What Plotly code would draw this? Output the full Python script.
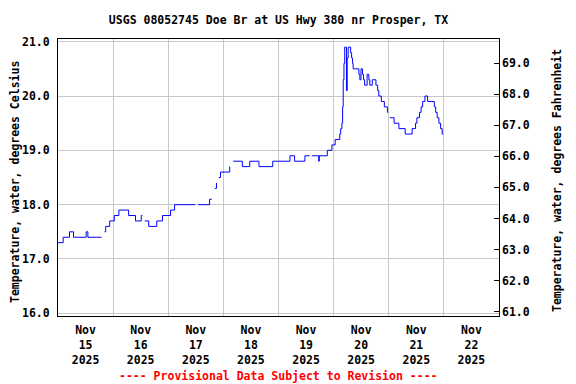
import plotly.graph_objects as go

# --- data ---
times = [
    "2025-11-15 00:00", "2025-11-15 02:15", "2025-11-15 05:00", "2025-11-15 06:45",
    "2025-11-15 12:15", "2025-11-15 13:00", "2025-11-15 19:00", "2025-11-15 19:30",
    "2025-11-15 20:15", "2025-11-15 20:45", "2025-11-15 22:30",
    "2025-11-16 00:30", "2025-11-16 02:30", "2025-11-16 06:45", "2025-11-16 09:45",
    "2025-11-16 12:15", "2025-11-16 12:45", "2025-11-16 13:15", "2025-11-16 13:45",
    "2025-11-16 15:30", "2025-11-16 19:00", "2025-11-16 21:30",
    "2025-11-17 01:00", "2025-11-17 02:45", "2025-11-17 11:45", "2025-11-17 12:15",
    "2025-11-17 13:00", "2025-11-17 18:00", "2025-11-17 19:00", "2025-11-17 19:30",
    "2025-11-17 20:15", "2025-11-17 21:00", "2025-11-17 21:15", "2025-11-17 22:00",
    "2025-11-17 22:45",
    "2025-11-18 02:30", "2025-11-18 02:45", "2025-11-18 03:15", "2025-11-18 04:15",
    "2025-11-18 08:15", "2025-11-18 11:30", "2025-11-18 15:30", "2025-11-18 21:30",
    "2025-11-19 05:00", "2025-11-19 07:00", "2025-11-19 11:30", "2025-11-19 13:30",
    "2025-11-19 14:00", "2025-11-19 14:30", "2025-11-19 17:30", "2025-11-19 17:45",
    "2025-11-19 21:15", "2025-11-19 23:15",
    "2025-11-20 00:40", "2025-11-20 02:40", "2025-11-20 03:05", "2025-11-20 03:35",
    "2025-11-20 03:55", "2025-11-20 04:10", "2025-11-20 04:30", "2025-11-20 04:50",
    "2025-11-20 05:35", "2025-11-20 05:55", "2025-11-20 06:20", "2025-11-20 07:25",
    "2025-11-20 07:50", "2025-11-20 08:15", "2025-11-20 08:30", "2025-11-20 11:00",
    "2025-11-20 11:25", "2025-11-20 11:55", "2025-11-20 12:35", "2025-11-20 13:00",
    "2025-11-20 13:30", "2025-11-20 14:35", "2025-11-20 15:20", "2025-11-20 15:45",
    "2025-11-20 16:50", "2025-11-20 18:25", "2025-11-20 19:10", "2025-11-20 19:40",
    "2025-11-20 20:45", "2025-11-20 22:05", "2025-11-20 23:25", "2025-11-20 23:45",
    "2025-11-21 00:00", "2025-11-21 00:30", "2025-11-21 02:20", "2025-11-21 04:25",
    "2025-11-21 07:10", "2025-11-21 10:10", "2025-11-21 11:40", "2025-11-21 12:15",
    "2025-11-21 13:25", "2025-11-21 14:05", "2025-11-21 14:45", "2025-11-21 15:45",
    "2025-11-21 16:55", "2025-11-21 19:50", "2025-11-21 20:25", "2025-11-21 21:05",
    "2025-11-21 21:50", "2025-11-21 22:35", "2025-11-21 23:15", "2025-11-21 23:40",
]
temp_c = [
    17.3, 17.4, 17.5, 17.4,
    17.5, 17.4, 17.4, None,
    17.5, 17.6, 17.7,
    17.8, 17.9, 17.8, 17.7,
    17.8, 17.8, None, 17.7,
    17.6, 17.7, 17.8,
    17.9, 18.0, 18.0, None,
    18.0, 18.1, 18.1, None,
    18.3, 18.4, None, 18.5,
    18.6,
    18.6, 18.7, None, 18.8,
    18.7, 18.8, 18.7, 18.8,
    18.9, 18.8, 18.9, 18.9,
    None, 18.9, 18.8, 18.9,
    19.0, 19.1,
    19.2, 19.3, 19.4, 19.5,
    19.8, 20.3, 20.6, 20.9,
    20.1, 20.7, 20.9, 20.8,
    20.7, 20.6, 20.5, 20.4,
    20.3, 20.5, 20.4, 20.3,
    20.2, 20.4, 20.3, 20.2,
    20.3, 20.2, 20.1, 20.0,
    19.9, 19.8, 19.7, 19.7,
    None, 19.6, 19.5, 19.4,
    19.3, 19.4, 19.5, 19.6,
    19.7, 19.8, 19.9, 20.0,
    19.9, 19.8, 19.7, 19.6,
    19.5, 19.4, 19.3, 19.3,
]

title_text = "USGS 08052745 Doe Br at US Hwy 380 nr Prosper, TX"
left_title = "Temperature, water, degrees Celsius"
right_title = "Temperature, water, degrees Fahrenheit"
footer_text = "---- Provisional Data Subject to Revision ----"

c_ticks = [16.0, 17.0, 18.0, 19.0, 20.0, 21.0]
f_ticks = [61.0, 62.0, 63.0, 64.0, 65.0, 66.0, 67.0, 68.0, 69.0]

FONT = dict(family="DejaVu Sans Mono", size=11.5, color="black", weight="bold")

fig = go.Figure()
fig.add_trace(go.Scatter(
    x=times, y=temp_c, mode="lines", line=dict(color="#0000FF", width=1, shape="hv"),
    connectgaps=False, showlegend=False, hoverinfo="skip"))
fig.add_trace(go.Scatter(x=[None], y=[None], yaxis="y2", showlegend=False, hoverinfo="skip"))

fig.update_layout(
    width=576, height=384,
    margin=dict(l=58, r=77, t=39, b=68),
    paper_bgcolor="white", plot_bgcolor="white",
    font=FONT,
    title=dict(text=title_text, x=0.5, xref="paper", xanchor="center",
               y=1 - 20 / 384, yref="container", yanchor="middle", font=FONT),
    xaxis=dict(
        type="date", range=["2025-11-15 00:00", "2025-11-23 00:00"],
        tick0="2025-11-15", dtick=86400000, tickformat="%b<br>%d<br>%Y",
        ticklabelmode="period", ticks="", ticklabelstandoff=3,
        showgrid=True, gridcolor="#C8C8C8", gridwidth=1,
        showline=True, linecolor="black", linewidth=1, mirror=True,
        zeroline=False, tickfont=FONT),
    yaxis=dict(
        range=[15.95, 21.05], tickmode="array", tickvals=c_ticks,
        ticktext=[f"{v:.1f}" for v in c_ticks], ticks="", ticklabelstandoff=5,
        showgrid=True, gridcolor="#C8C8C8", gridwidth=1,
        showline=True, linecolor="black", linewidth=1, mirror=True,
        zeroline=False, tickfont=FONT),
    yaxis2=dict(
        overlaying="y", side="right", range=[60.86, 69.78], tickmode="array",
        tickvals=f_ticks, ticktext=[f"{v:.1f}" for v in f_ticks],
        ticks="inside", ticklen=5, tickcolor="black", showgrid=False, ticklabelstandoff=2,
        zeroline=False, tickfont=FONT),
)

fig.add_annotation(text=left_title, xref="paper", yref="paper",
                   x=(15 - 58) / 441, y=(316 - 182) / 277, xanchor="center", yanchor="middle",
                   textangle=-90, showarrow=False, font=FONT)
fig.add_annotation(text=right_title, xref="paper", yref="paper",
                   x=(557 - 58) / 441, y=(316 - 181) / 277, xanchor="center", yanchor="middle",
                   textangle=-90, showarrow=False, font=FONT)
fig.add_annotation(text=footer_text, xref="paper", yref="paper",
                   x=0.5, y=(316 - 376) / 277, xanchor="center", yanchor="middle",
                   showarrow=False, font=dict(FONT, color="#FF0000"))

fig.write_html("out.html", config={"responsive": False, "displayModeBar": False},
               post_script="document.body.style.margin='0px';document.body.style.overflow='hidden';")
